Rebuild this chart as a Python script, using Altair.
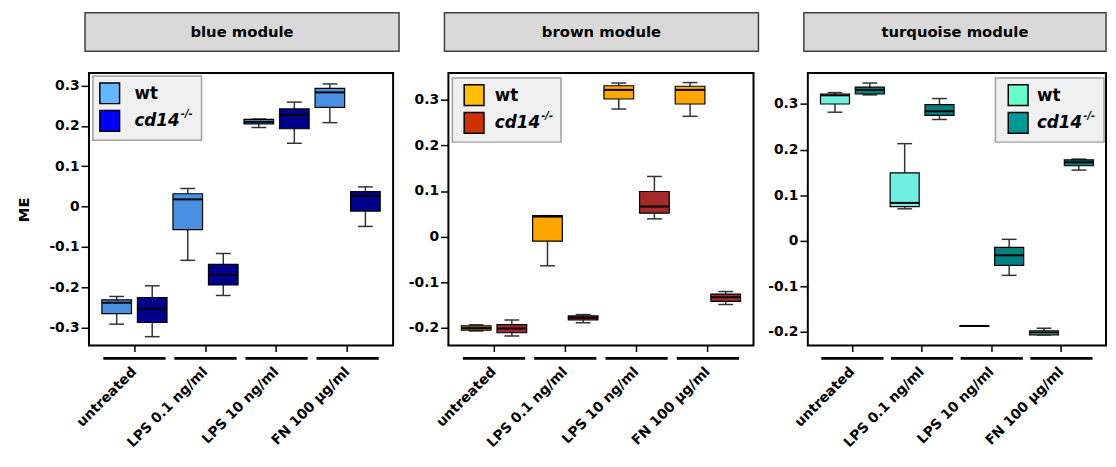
import altair as alt
import pandas as pd

FONT = "DejaVu Sans"

categories = ["untreated", "LPS 0.1 ng/ml", "LPS 10 ng/ml", "FN 100 µg/ml"]
genotypes = ["wt", "cd14"]
modules = ["blue module", "brown module", "turquoise module"]

# ---- blue module (box statistics) ----
blue_wt_low = [-0.291, -0.133, 0.196, 0.208]
blue_wt_q1 = [-0.265, -0.057, 0.205, 0.246]
blue_wt_med = [-0.238, 0.018, 0.210, 0.283]
blue_wt_q3 = [-0.231, 0.032, 0.216, 0.293]
blue_wt_high = [-0.2225, 0.045, 0.217, 0.304]
blue_ko_low = [-0.322, -0.220, 0.157, -0.049]
blue_ko_q1 = [-0.287, -0.194, 0.193, -0.011]
blue_ko_med = [-0.253, -0.169, 0.227, 0.027]
blue_ko_q3 = [-0.225, -0.143, 0.242, 0.037]
blue_ko_high = [-0.196, -0.116, 0.259, 0.049]

# ---- brown module ----
brown_wt_low = [-0.207, -0.064, 0.280, 0.264]
brown_wt_q1 = [-0.205, -0.010, 0.302, 0.291]
brown_wt_med = [-0.2007, 0.044, 0.322, 0.322]
brown_wt_q3 = [-0.196, 0.046, 0.331, 0.330]
brown_wt_high = [-0.1935, 0.046, 0.337, 0.338]
brown_ko_low = [-0.218, -0.189, 0.039, -0.149]
brown_ko_q1 = [-0.211, -0.183, 0.0515, -0.142]
brown_ko_med = [-0.2014, -0.178, 0.066, -0.133]
brown_ko_q3 = [-0.193, -0.174, 0.099, -0.126]
brown_ko_high = [-0.183, -0.171, 0.132, -0.1205]

# ---- turquoise module ----
turq_wt_low = [0.282, 0.070, -0.1875, -0.2065]
turq_wt_q1 = [0.300, 0.075, -0.1872, -0.2065]
turq_wt_med = [0.319, 0.083, -0.187, -0.2014]
turq_wt_q3 = [0.322, 0.149, -0.1868, -0.198]
turq_wt_high = [0.325, 0.213, -0.1865, -0.192]
turq_ko_low = [0.320, 0.266, -0.076, 0.155]
turq_ko_q1 = [0.322, 0.275, -0.054, 0.1645]
turq_ko_med = [0.331, 0.284, -0.032, 0.172]
turq_ko_q3 = [0.337, 0.2986, -0.0145, 0.1775]
turq_ko_high = [0.346, 0.312, 0.003, 0.179]

blue_ticks = [-0.3, -0.2, -0.1, 0, 0.1, 0.2, 0.3]
brown_ticks = [-0.2, -0.1, 0, 0.1, 0.2, 0.3]
turq_ticks = [-0.2, -0.1, 0, 0.1, 0.2, 0.3]

blue_box_colors = ["#4a90e2", "#00008b"]
blue_legend_colors = ["#63b8ff", "#0000ff"]
brown_box_colors = ["#ffa500", "#a52a2a"]
brown_legend_colors = ["#ffc000", "#cc3300"]
turq_box_colors = ["#70efe0", "#008080"]
turq_legend_colors = ["#66ffcc", "#009999"]

H = 276


def make_df(wt, ko):
    rows = []
    for g, s in zip(genotypes, [wt, ko]):
        for i, c in enumerate(categories):
            rows.append({"cat": c, "geno": g, "low": s[0][i], "q1": s[1][i],
                         "med": s[2][i], "q3": s[3][i], "high": s[4][i]})
    return pd.DataFrame(rows)


LABEL_EXPR = "datum.value == 0 ? '0' : (datum.value < 0 ? '-' : '') + format(abs(datum.value), '.1f')"


def panel(name, df, box_colors, legend_colors, domain, ticks, width, leg, title, hx1):
    yscale = alt.Scale(domain=domain, nice=False, zero=False)
    yaxis = alt.Axis(values=ticks, labelExpr=LABEL_EXPR, title=title, grid=False,
                     domain=False, tickSize=8, tickWidth=1.5, tickColor="black",
                     labelFont=FONT, labelFontSize=14, labelFontWeight="bold",
                     labelColor="black", labelPadding=2, titleFont=FONT,
                     titleFontSize=15, titleFontWeight="bold", titleColor="black",
                     titlePadding=18)
    xenc = alt.X("cat:N", sort=categories,
                 scale=alt.Scale(paddingInner=0, paddingOuter=0.14),
                 axis=alt.Axis(title=None, labelAngle=-45, labelAlign="right",
                               labelBaseline="middle", labelPadding=18, tickSize=6,
                               tickWidth=1.5, tickColor="black", domain=False,
                               grid=False, labelFont=FONT, labelFontSize=14,
                               labelFontWeight="bold", labelColor="black"))
    xoff = alt.XOffset("geno:N", sort=genotypes,
                       scale=alt.Scale(paddingInner=1 / 6, paddingOuter=1 / 12))
    base = alt.Chart(df).encode(x=xenc, xOffset=xoff)

    whisk = base.mark_rule(color="#333333", strokeWidth=1.5).encode(
        y=alt.Y("low:Q", scale=yscale, axis=yaxis), y2="high:Q")
    capl = base.mark_tick(size=15, thickness=1.5, color="#333333", opacity=1,
                          orient="horizontal").encode(y=alt.Y("low:Q", title=title))
    caph = base.mark_tick(size=15, thickness=1.5, color="#333333", opacity=1,
                          orient="horizontal").encode(y=alt.Y("high:Q", title=title))
    box = base.mark_bar(stroke="black", strokeWidth=1.2, opacity=1).encode(
        y=alt.Y("q1:Q", title=title), y2="q3:Q",
        color=alt.Color("geno:N", scale=alt.Scale(domain=genotypes, range=box_colors), legend=None))
    med = base.mark_tick(size=30, thickness=2, color="black", opacity=1,
                         orient="horizontal").encode(y=alt.Y("med:Q", title=title))

    cat_df = pd.DataFrame({"cat": categories})
    brackets = alt.Chart(cat_df).mark_tick(size=63, thickness=3, color="black", opacity=1,
                                           orient="horizontal").encode(
        x=alt.X("cat:N", sort=categories), y=alt.value(H + 13))

    one = pd.DataFrame({"k": [0]})
    hx0 = -4
    header = alt.Chart(one).mark_rect(fill="#d9d9d9", stroke="#404040", strokeWidth=1.5).encode(
        x=alt.value(hx0), x2=alt.value(hx1), y=alt.value(-61), y2=alt.value(-22))
    header_t = alt.Chart(one).mark_text(font=FONT, fontSize=15, fontWeight="bold",
                                        color="black").encode(
        x=alt.value((hx0 + min(hx1, width + 6)) / 2), y=alt.value(-41), text=alt.value(name))

    lx0, ly0, sx, tx = leg
    lbox = alt.Chart(one).mark_rect(fill="#f0f0f0", stroke="#a0a0a0", strokeWidth=1.5).encode(
        x=alt.value(lx0), x2=alt.value(lx0 + 110), y=alt.value(ly0), y2=alt.value(ly0 + 65))
    sw1 = alt.Chart(one).mark_rect(fill=legend_colors[0], stroke="black", strokeWidth=1.5).encode(
        x=alt.value(sx), x2=alt.value(sx + 20), y=alt.value(ly0 + 7), y2=alt.value(ly0 + 28))
    sw2 = alt.Chart(one).mark_rect(fill=legend_colors[1], stroke="black", strokeWidth=1.5).encode(
        x=alt.value(sx), x2=alt.value(sx + 20), y=alt.value(ly0 + 35), y2=alt.value(ly0 + 56))
    t1 = alt.Chart(one).mark_text(font=FONT, fontSize=17, fontWeight="bold", align="left",
                                  baseline="middle", color="black").encode(
        x=alt.value(tx), y=alt.value(ly0 + 18), text=alt.value("wt"))
    t2 = alt.Chart(one).mark_text(font=FONT, fontSize=17, fontWeight="bold", fontStyle="italic",
                                  align="left", baseline="middle", color="black").encode(
        x=alt.value(tx), y=alt.value(ly0 + 46), text=alt.value("cd14"))
    t3 = alt.Chart(one).mark_text(font=FONT, fontSize=10, fontWeight="bold", fontStyle="italic",
                                  align="left", baseline="middle", color="black").encode(
        x=alt.value(tx + 47), y=alt.value(ly0 + 39), text=alt.value("-/-"))

    return alt.layer(whisk, capl, caph, box, med, brackets, header, header_t,
                     lbox, sw1, sw2, t1, t2, t3).properties(width=width, height=H)


p1 = panel(modules[0],
           make_df([blue_wt_low, blue_wt_q1, blue_wt_med, blue_wt_q3, blue_wt_high],
                   [blue_ko_low, blue_ko_q1, blue_ko_med, blue_ko_q3, blue_ko_high]),
           blue_box_colors, blue_legend_colors, [-0.344, 0.331], blue_ticks, 308,
           (4, 3, 11, 46), "ME", 314)
p2 = panel(modules[1],
           make_df([brown_wt_low, brown_wt_q1, brown_wt_med, brown_wt_q3, brown_wt_high],
                   [brown_ko_low, brown_ko_q1, brown_ko_med, brown_ko_q3, brown_ko_high]),
           brown_box_colors, brown_legend_colors, [-0.239, 0.359], brown_ticks, 309,
           (4, 5, 16, 47), None, 314)
p3 = panel(modules[2],
           make_df([turq_wt_low, turq_wt_q1, turq_wt_med, turq_wt_q3, turq_wt_high],
                   [turq_ko_low, turq_ko_q1, turq_ko_med, turq_ko_q3, turq_ko_high]),
           turq_box_colors, turq_legend_colors, [-0.230, 0.368], turq_ticks, 302,
           (190, 5, 203, 232), None, 302)

chart = alt.hconcat(p1, p2, p3, spacing=6).resolve_scale(
    x="independent", y="independent", color="independent", xOffset="independent"
).properties(
    padding={"left": 7, "top": 0, "right": 0, "bottom": 0}
).configure_view(stroke="black", strokeWidth=2)

chart.save("out.html", embed_options={"renderer": "svg", "actions": False})
